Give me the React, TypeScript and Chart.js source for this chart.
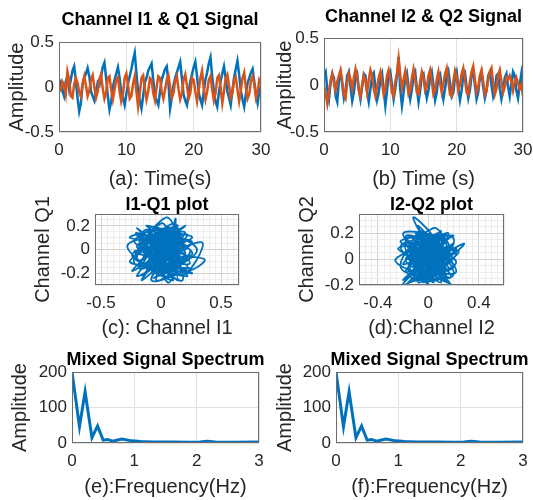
import React, { useEffect, useRef } from "react";
import { Chart, registerables } from "chart.js";
Chart.register(...registerables);

// ---------------- data ----------------
const DT = 0.25; // sampling step of the time series (s)

const I1 = [
  0.00, 0.05, -0.04, -0.10, 0.06, 0.12, -0.02, 0.08, 0.18, 0.23, 0.08, -0.12,
  -0.27, -0.18, 0.02, 0.10, 0.15, 0.21, 0.12, -0.05, -0.10, -0.15, -0.06, 0.05,
  0.02, 0.12, 0.22, 0.27, 0.10, -0.10, -0.25, -0.16, 0.00, 0.08, 0.15, 0.22,
  0.10, -0.06, -0.12, -0.20, -0.08, 0.04, 0.12, 0.20, 0.30, 0.38, 0.15, -0.05,
  -0.15, -0.24, -0.10, 0.05, 0.10, 0.18, 0.22, 0.26, 0.08, -0.10, -0.15, -0.20,
  -0.05, 0.08, 0.14, 0.20, 0.23, 0.05, -0.24, -0.12, 0.02, 0.10, 0.16, 0.22,
  0.28, 0.10, -0.08, -0.15, -0.20, -0.06, 0.06, 0.14, 0.22, 0.28, 0.12, -0.06,
  -0.14, -0.20, -0.05, 0.08, 0.16, 0.26, 0.33, 0.12, -0.05, -0.16, -0.22, -0.06,
  0.06, 0.15, 0.23, 0.10, -0.05, -0.12, -0.20, -0.04, 0.10, 0.20, 0.29, 0.14,
  -0.04, -0.14, -0.22, -0.08, 0.04, 0.10, 0.16, 0.20, 0.06, -0.08, -0.18, -0.05,
  0.02,
];
const Q1 = [
  0.00, -0.03, 0.06, 0.02, -0.08, 0.17, 0.08, -0.10, -0.12, 0.03, 0.10, 0.05,
  -0.06, -0.11, 0.04, 0.12, 0.02, -0.10, -0.04, 0.08, 0.13, 0.00, -0.12, -0.05,
  0.09, 0.14, -0.02, -0.13, -0.06, 0.10, 0.12, -0.03, -0.14, -0.03, 0.08, 0.11,
  -0.05, -0.16, -0.08, 0.10, 0.15, 0.02, -0.13, -0.10, 0.04, 0.12, -0.05, -0.22,
  -0.07, 0.10, 0.13, -0.02, -0.14, -0.05, 0.10, 0.08, -0.07, -0.15, 0.00, 0.12,
  0.10, -0.05, -0.13, -0.03, 0.08, 0.13, 0.00, -0.12, -0.07, 0.07, 0.12, -0.02,
  -0.14, -0.08, 0.08, 0.14, 0.02, -0.13, -0.07, 0.10, 0.08, -0.05, -0.16, -0.03,
  0.10, 0.18, -0.02, -0.14, -0.05, 0.08, 0.12, -0.03, -0.15, -0.07, 0.10, 0.13,
  0.00, -0.18, -0.05, 0.10, 0.14, 0.02, -0.12, -0.07, 0.08, 0.11, -0.03, -0.16,
  -0.04, 0.10, 0.16, 0.00, -0.13, -0.08, 0.07, 0.12, 0.03, -0.12, -0.05, 0.08,
  0.04,
];
const I2 = [
  0.10, 0.14, -0.05, -0.15, 0.02, 0.12, 0.08, -0.12, -0.18, 0.05, 0.13, 0.00,
  -0.14, -0.06, 0.10, 0.14, -0.02, -0.17, -0.08, 0.08, 0.12, -0.04, -0.15, -0.02,
  0.12, 0.10, -0.08, -0.18, -0.04, 0.10, 0.13, -0.02, -0.16, -0.08, 0.06, 0.12,
  -0.05, -0.22, -0.06, 0.10, 0.14, 0.00, -0.15, -0.04, 0.10, 0.30, -0.05, -0.22,
  -0.08, 0.08, 0.13, -0.02, -0.15, -0.05, 0.10, 0.14, -0.04, -0.18, -0.06, 0.10,
  0.12, -0.02, -0.14, -0.06, 0.08, 0.14, 0.00, -0.16, -0.08, 0.10, 0.12, -0.04,
  -0.15, -0.04, 0.10, 0.15, 0.02, -0.12, -0.08, 0.08, 0.14, -0.02, -0.16, -0.06,
  0.10, 0.13, -0.02, -0.14, -0.05, 0.10, 0.15, 0.00, -0.15, -0.08, 0.08, 0.13,
  -0.02, -0.14, -0.06, 0.10, 0.14, 0.00, -0.12, -0.05, 0.10, 0.12, -0.04, -0.15,
  -0.06, 0.08, 0.12, -0.02, -0.12, 0.02, 0.14, 0.10, -0.06, -0.14, 0.00, 0.12,
  -0.04,
];
const Q2 = [
  0.00, -0.10, -0.20, -0.08, 0.05, 0.12, 0.02, -0.06, 0.04, 0.10, 0.16, 0.04,
  -0.10, -0.14, 0.02, 0.12, 0.06, -0.04, 0.08, 0.17, 0.08, -0.06, -0.12, 0.00,
  0.10, 0.04, -0.08, 0.06, 0.16, 0.10, -0.04, -0.12, -0.02, 0.08, 0.14, 0.02,
  -0.10, -0.04, 0.10, 0.16, 0.06, -0.08, -0.12, 0.04, 0.12, 0.28, 0.10, -0.04,
  0.06, 0.15, 0.04, -0.10, -0.06, 0.08, 0.17, 0.06, -0.08, -0.10, 0.04, 0.14,
  0.08, -0.06, -0.02, 0.10, 0.16, 0.04, -0.10, -0.06, 0.06, 0.14, 0.02, -0.08,
  0.02, 0.12, 0.18, 0.04, -0.10, -0.12, 0.04, 0.15, 0.08, -0.06, 0.00, 0.12,
  0.18, 0.06, -0.08, -0.10, 0.04, 0.14, 0.20, 0.06, -0.08, -0.02, 0.10, 0.16,
  0.04, -0.10, -0.06, 0.06, 0.14, 0.18, 0.02, -0.10, -0.04, 0.10, 0.16, 0.04,
  -0.08, -0.02, 0.08, 0.06, 0.10, 0.04, -0.06, 0.04, 0.08, 0.02, -0.04, 0.00,
  -0.12,
];

// I-Q trajectories (panel c and d), estimated from the dense clouds
const IQ1_I = [
  0.02, 0.18, -0.12, 0.10, -0.20, 0.24, -0.05, 0.06, -0.18, 0.22, -0.10, 0.14, -0.02, 0.26, -0.22, 0.04,
  0.12, -0.16, 0.20, -0.08, 0.08, -0.21, 0.16, -0.04, 0.10, -0.14, 0.36, 0.18, -0.06, 0.00, -0.24, 0.14,
  -0.10, 0.22, -0.02, 0.06, -0.18, 0.26, -0.12, 0.10, -0.28, 0.02, 0.20, -0.08, 0.16, -0.16, 0.08, -0.04,
  0.24, -0.20, 0.12, 0.04, -0.14, 0.30, -0.06, 0.14, -0.22, 0.00, 0.18, -0.10, 0.08, -0.16, 0.22, -0.02,
  0.16, -0.20, 0.10, -0.08, 0.06, 0.14, -0.24, 0.20, -0.04, 0.26, -0.12, 0.02, 0.10, -0.18, 0.18, -0.06,
  0.12, -0.26, 0.24, -0.02, 0.08, -0.14, 0.34, 0.16, -0.10, 0.04, -0.20, 0.14, -0.06, 0.20, -0.16, 0.00,
  0.12, 0.06, -0.22, 0.22, -0.08, 0.10, -0.12, 0.18, -0.04, 0.02, -0.18, 0.26, -0.10, 0.14, -0.02, 0.08,
  -0.26, 0.16, -0.06, 0.22, -0.14, 0.04, 0.12, -0.20, 0.02,
];
const IQ1_Q = [
  -0.03, 0.08, -0.18, 0.14, 0.02, -0.12, 0.16, -0.24, 0.10, 0.02, -0.10, -0.20, 0.12, -0.04, -0.12, 0.27,
  0.05, -0.22, 0.14, 0.04, -0.14, 0.14, -0.08, -0.26, 0.18, -0.02, -0.08, -0.18, 0.08, -0.16, -0.04, 0.10,
  0.18, -0.22, -0.06, 0.20, -0.16, 0.06, 0.06, -0.26, 0.02, 0.10, -0.04, -0.20, 0.16, 0.12, -0.02, -0.12,
  -0.16, -0.08, 0.22, -0.20, 0.16, 0.00, -0.24, -0.10, 0.06, 0.16, -0.26, -0.04, 0.08, -0.26, 0.12, 0.02,
  -0.14, 0.18, -0.06, 0.12, -0.28, 0.02, -0.18, 0.20, -0.08, -0.20, 0.00, 0.22, -0.18, 0.04, 0.06, -0.16,
  0.14, 0.10, 0.00, -0.22, 0.12, -0.12, 0.06, -0.22, 0.14, -0.04, -0.22, 0.20, 0.02, -0.10, 0.08, -0.12,
  0.26, 0.04, -0.02, -0.14, -0.26, 0.08, 0.20, -0.02, 0.06, -0.18, -0.10, 0.10, 0.10, -0.26, 0.18, -0.10,
  -0.10, 0.12, -0.18, -0.06, 0.04, 0.14, -0.16, 0.12, -0.02,
];
const IQ2_I = [
  0.00, -0.16, 0.14, -0.06, 0.18, -0.20, 0.08, -0.10, 0.20, -0.04, 0.10, -0.18, 0.04, -0.12, 0.02, 0.16,
  -0.14, 0.12, -0.22, 0.06, -0.02, 0.22, -0.08, 0.14, -0.18, 0.28, 0.10, -0.06, 0.02, -0.16, 0.18, -0.10,
  0.06, -0.20, 0.16, -0.04, 0.12, -0.12, 0.20, -0.26, 0.00, 0.08, -0.14, 0.22, -0.06, 0.04, -0.18, 0.14,
  -0.02, 0.10, -0.10, 0.18, -0.20, 0.06, -0.08, 0.16, -0.14, 0.02, 0.20, -0.16, 0.08, -0.04, 0.12, -0.22,
  0.04, 0.14, -0.08, 0.00, -0.18, 0.22, -0.12, 0.10, -0.02, 0.18, -0.10, 0.06, -0.20, 0.16, -0.06, 0.24,
  -0.14, 0.02, 0.12, -0.16, 0.08, -0.04, 0.20, -0.22, 0.10, -0.08, 0.00, 0.16, -0.12, 0.04, -0.18, 0.14,
  -0.06, 0.22, -0.20, 0.06, -0.10, 0.12, -0.02, 0.18, -0.16, 0.08, -0.04, 0.20, -0.14, 0.02, 0.14, -0.24,
  0.10, -0.06, 0.16, -0.10, 0.04, -0.18, 0.12, -0.02, 0.00,
];
const IQ2_Q = [
  0.02, 0.14, -0.12, -0.16, 0.10, -0.04, 0.18, -0.08, -0.06, 0.12, -0.18, 0.06, -0.02, 0.32, 0.20, -0.02,
  -0.14, 0.14, 0.10, -0.12, 0.08, 0.04, -0.18, 0.20, -0.10, 0.12, 0.00, 0.16, -0.16, 0.02, -0.14, 0.20,
  0.06, -0.16, 0.16, -0.06, -0.08, 0.10, 0.18, 0.00, -0.10, 0.14, -0.02, -0.10, 0.22, -0.18, 0.16, 0.04,
  -0.14, 0.22, -0.12, 0.00, 0.04, 0.10, -0.02, -0.18, 0.18, 0.04, 0.12, -0.18, -0.04, 0.14, -0.14, -0.06,
  0.24, 0.08, 0.06, -0.20, 0.12, -0.02, -0.16, 0.16, 0.00, -0.20, 0.14, -0.08, 0.20, 0.12, -0.12, 0.06,
  0.06, 0.16, -0.10, -0.08, 0.20, -0.18, 0.16, 0.14, 0.02, 0.26, 0.10, -0.08, -0.04, -0.14, 0.00, 0.18,
  0.04, 0.08, -0.20, 0.12, 0.18, -0.16, -0.04, 0.04, 0.10, -0.12, 0.20, -0.12, -0.10, 0.14, -0.04, 0.08,
  0.10, -0.16, 0.20, 0.02, -0.06, 0.18, 0.06, -0.10, 0.02,
];

const SPEC_FREQ = [0, 0.12, 0.21, 0.32, 0.41, 0.5, 0.57, 0.65, 0.8, 0.96, 1.1, 1.3, 1.6, 1.9, 2.05, 2.17, 2.3, 2.6, 3.0];
const SPEC_AMP = [200, 46, 144, 15, 48, 8, 10, 5, 11, 6, 4, 3, 3, 2, 3, 5, 3, 2, 3];

// ---------------- styles ----------------
const BLUE = "#0072BD";
const ORANGE = "#D95319";
const TEXT = "#262626";
const BOX = "#6e6e6e";
const GRID = "#e0e0e0";
const GRID_MAJOR = "#d2d2d2";
const GRID_MINOR = "#ececec";
const FONT = "'Liberation Sans', Arial, Helvetica, sans-serif";
const TICK_SIZE = 17;
const TITLE_SIZE = 18;
const LABEL_SIZE = 20;

// layout of each panel (page pixels)
const GEO = {
  a: { L: 59, T: 42, R: 261, B: 132, titleY: 20, yLabelX: 17, xLabelY: 179, cx: 0, cy: 0, bottom: 195 },
  b: { L: 324, T: 38, R: 523, B: 132, titleY: 17, yLabelX: 285, xLabelY: 179, cx: 270, cy: 0, bottom: 195 },
  c: { L: 95, T: 214, R: 239, B: 285, titleY: 205, yLabelX: 43, xLabelY: 328, cx: 25, cy: 190, bottom: 343 },
  d: { L: 359, T: 214, R: 504, B: 285, titleY: 205, yLabelX: 307, xLabelY: 328, cx: 290, cy: 190, bottom: 343 },
  e: { L: 72, T: 372, R: 259, B: 443, titleY: 360, yLabelX: 20, xLabelY: 487, cx: 0, cy: 345, bottom: 500 },
  f: { L: 336, T: 372, R: 523, B: 443, titleY: 360, yLabelX: 285, xLabelY: 487, cx: 265, cy: 345, bottom: 500 },
};

const boxPlugin = {
  id: "axesBox",
  afterDraw(chart: any) {
    const { ctx, chartArea: a } = chart;
    ctx.save();
    ctx.strokeStyle = BOX;
    ctx.lineWidth = 1;
    ctx.strokeRect(Math.round(a.left) + 0.5, Math.round(a.top) + 0.5, Math.round(a.right - a.left) - 1, Math.round(a.bottom - a.top) - 1);
    ctx.restore();
  },
};

const near = (v: number, step: number) => Math.abs(v / step - Math.round(v / step)) < 1e-6;
const fmt = (v: number) => String(Math.round(v * 100) / 100).replace(/^-0$/, "0");

function frame(g: any) {
  const width = Math.round(2 * ((g.L + g.R) / 2 - g.cx));
  const height = g.bottom - g.cy;
  const tTop = g.titleY - g.cy - TITLE_SIZE / 2;
  return {
    left: g.cx,
    top: g.cy,
    width,
    height,
    padRight: g.cx + width - g.R,
    titlePad: { top: tTop, bottom: g.T - g.cy - tTop - TITLE_SIZE },
    yw: g.L - g.cx,
    yTitlePad: g.yLabelX - g.cx - LABEL_SIZE / 2,
    xh: g.bottom - g.B,
    xTitlePad: g.bottom - g.xLabelY - LABEL_SIZE / 2,
  };
}

function axis(f: any, isX: boolean, ax: any) {
  const minor = ax.minor;
  return {
    type: "linear",
    position: isX ? "bottom" : "left",
    min: ax.min,
    max: ax.max,
    afterFit: (s: any) => {
      if (isX) s.height = f.xh;
      else s.width = f.yw;
    },
    border: { display: false },
    grid: {
      drawTicks: false,
      lineWidth: 1,
      color: minor
        ? (ctx: any) => (ctx.tick && near(ctx.tick.value, ax.step) ? GRID_MAJOR : GRID_MINOR)
        : GRID,
    },
    ticks: {
      stepSize: minor ? minor : ax.step,
      autoSkip: false,
      maxRotation: 0,
      minRotation: 0,
      padding: isX ? 8 : 5,
      color: TEXT,
      font: { family: FONT, size: TICK_SIZE },
      callback: (v: number) => (near(v, ax.step) ? fmt(v) : ""),
    },
    title: {
      display: true,
      text: ax.label,
      color: TEXT,
      font: { family: FONT, size: LABEL_SIZE, lineHeight: 1 },
      padding: isX ? { top: 0, bottom: f.xTitlePad } : { top: f.yTitlePad, bottom: 0 },
    },
  };
}

// empty right-hand spacer axis: keeps the title centred over the plot area
function spacer(f: any) {
  return {
    type: "linear",
    axis: "y",
    position: "right",
    display: true,
    afterFit: (s: any) => {
      s.width = f.padRight;
    },
    ticks: { display: false },
    grid: { display: false, drawTicks: false },
    border: { display: false },
    title: { display: false },
  };
}

function makePanel(g: any, title: string, type: string, datasets: any[], xAx: any, yAx: any) {
  const f = frame(g);
  const config: any = {
    type,
    data: { datasets: datasets.map((d) => ({ ...d, xAxisID: "x", yAxisID: "y" })) },
    options: {
      responsive: false,
      animation: false,
      events: [],
      layout: { padding: 0 },
      plugins: {
        legend: { display: false },
        tooltip: { enabled: false },
        title: {
          display: true,
          text: title,
          color: "#000",
          font: { family: FONT, size: TITLE_SIZE, weight: "bold", lineHeight: 1 },
          padding: f.titlePad,
        },
      },
      scales: { x: axis(f, true, xAx), y: axis(f, false, yAx), pad: spacer(f) },
    },
    plugins: [boxPlugin],
  };
  return { f, config };
}

const series = (vals: number[]) => vals.map((v, i) => ({ x: i * DT, y: v }));
const pairs = (xs: number[], ys: number[]) => xs.map((v, i) => ({ x: v, y: ys[i] }));

const timeLine = (vals: number[], color: string, order: number) => ({
  data: series(vals),
  borderColor: color,
  borderWidth: 2.5,
  pointRadius: 0,
  tension: 0,
  order,
});
const iqLine = (xs: number[], ys: number[]) => ({
  data: pairs(xs, ys),
  showLine: true,
  borderColor: BLUE,
  borderWidth: 1.8,
  pointRadius: 0,
  tension: 0.4,
});
const specLine = () => ({
  data: pairs(SPEC_FREQ, SPEC_AMP),
  borderColor: BLUE,
  borderWidth: 3,
  pointRadius: 0,
  tension: 0,
});

const TIME_X = (label: string) => ({ min: 0, max: 30, step: 10, label });
const AMP_Y = { min: -0.5, max: 0.5, step: 0.5, label: "Amplitude" };
const FREQ_X = (label: string) => ({ min: 0, max: 3, step: 1, label });
const SPEC_Y = { min: 0, max: 200, step: 100, label: "Amplitude" };

const PANELS = [
  makePanel(GEO.a, "Channel I1 & Q1 Signal", "line", [timeLine(I1, BLUE, 1), timeLine(Q1, ORANGE, 0)], TIME_X("(a): Time(s)"), AMP_Y),
  makePanel(GEO.b, "Channel I2 & Q2 Signal", "line", [timeLine(I2, BLUE, 1), timeLine(Q2, ORANGE, 0)], TIME_X("(b) Time (s)"), AMP_Y),
  makePanel(GEO.c, "I1-Q1 plot", "scatter", [iqLine(IQ1_I, IQ1_Q)],
    { min: -0.55, max: 0.65, step: 0.5, minor: 0.05, label: "(c): Channel I1" },
    { min: -0.3, max: 0.3, step: 0.2, minor: 0.05, label: "Channel Q1" }),
  makePanel(GEO.d, "I2-Q2 plot", "scatter", [iqLine(IQ2_I, IQ2_Q)],
    { min: -0.55, max: 0.6, step: 0.4, minor: 0.05, label: "(d):Channel I2" },
    { min: -0.2, max: 0.35, step: 0.2, minor: 0.05, label: "Channel Q2" }),
  makePanel(GEO.e, "Mixed Signal Spectrum", "line", [specLine()], FREQ_X("(e):Frequency(Hz)"), SPEC_Y),
  makePanel(GEO.f, "Mixed Signal Spectrum", "line", [specLine()], FREQ_X("(f):Frequency(Hz)"), SPEC_Y),
];

export default function App() {
  const refs = useRef<(HTMLCanvasElement | null)[]>([]);
  useEffect(() => {
    const charts = PANELS.map((p, i) => new Chart(refs.current[i] as HTMLCanvasElement, p.config));
    return () => charts.forEach((c) => c.destroy());
  }, []);
  return (
    <div style={{ position: "fixed", left: 0, top: 0, width: 533, height: 500, overflow: "hidden", background: "#fff" }}>
      {PANELS.map((p, i) => (
        <canvas
          key={i}
          ref={(el) => {
            refs.current[i] = el;
          }}
          width={p.f.width}
          height={p.f.height}
          style={{ position: "absolute", left: p.f.left, top: p.f.top, width: p.f.width, height: p.f.height }}
        />
      ))}
    </div>
  );
}
